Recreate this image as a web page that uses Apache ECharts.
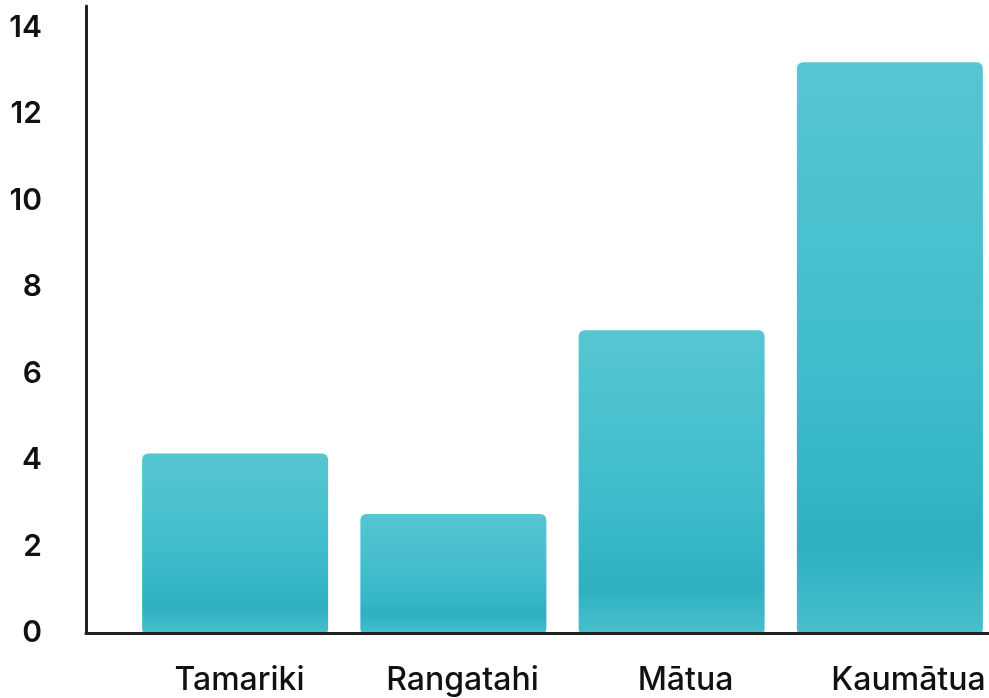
<!DOCTYPE html>
<html><head><meta charset="utf-8">
<script src="https://cdn.jsdelivr.net/npm/echarts@6/dist/echarts.min.js"></script>
<style>html,body{margin:0;padding:0;background:#fff;overflow:hidden;width:989px;height:698px}#c{width:1030px;height:698px}</style>
</head><body><div id="c"></div>
<script>
const categories = ['Tamariki', 'Rangatahi', 'Mātua', 'Kaumātua'];
const values = [4.15, 2.75, 7.0, 13.2];
const yTicks = [0, 2, 4, 6, 8, 10, 12, 14];

const chart = echarts.init(document.getElementById('c'));
const barColor = new echarts.graphic.LinearGradient(0, 0, 0, 1, [
  {offset: 0, color: '#56c6d1'},
  {offset: 0.55, color: '#3fbccb'},
  {offset: 0.85, color: '#2eb0c1'},
  {offset: 1, color: '#48bfcc'}
]);
chart.setOption({
  animation: false,
  grid: [
    {left: 86, right: 30, top: 6, bottom: 65},
    {left: 126, right: 31, top: 6, bottom: 65},
    {left: 128, right: 10, top: 6, bottom: 65}
  ],
  xAxis: [
    {gridIndex: 0, type: 'category', data: [''], z: 10,
     axisLine: {lineStyle: {color: '#222', width: 3}}, axisTick: {show: false}, axisLabel: {show: false}},
    {gridIndex: 1, type: 'category', data: categories, show: false},
    {gridIndex: 2, type: 'category', data: categories,
     axisLine: {show: false}, axisTick: {show: false},
     axisLabel: {color: '#111', fontFamily: 'Inter', fontSize: 32, fontWeight: 500, margin: 31}}
  ],
  yAxis: [
    {gridIndex: 0, type: 'value', min: 0, max: 14.5, interval: 2, z: 10,
     axisLine: {show: true, lineStyle: {color: '#222', width: 3}}, axisTick: {show: false}, splitLine: {show: false},
     axisLabel: {color: '#111', fontFamily: 'Inter', fontSize: 30, fontWeight: 600, margin: 44,
       formatter: v => yTicks.includes(v) ? String(v) : ''}},
    {gridIndex: 1, type: 'value', min: 0, max: 14.5, show: false},
    {gridIndex: 2, type: 'value', min: 0, max: 14.5, show: false}
  ],
  series: [{
    type: 'bar', xAxisIndex: 1, yAxisIndex: 1, data: values, barWidth: 186,
    itemStyle: {color: barColor, borderRadius: [6, 6, 4, 4]}
  }]
});
</script></body></html>
